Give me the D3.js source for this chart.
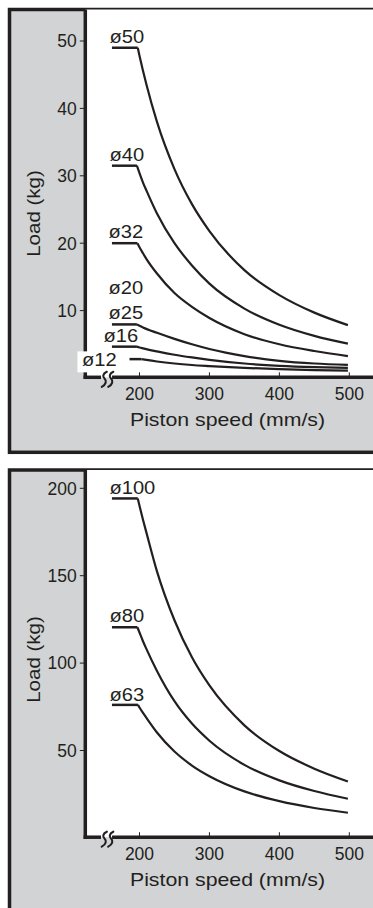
<!DOCTYPE html>
<html>
<head>
<meta charset="utf-8">
<script src="https://cdn.jsdelivr.net/npm/d3@7"></script>
<style>
  html, body { margin: 0; padding: 0; background: #ffffff; }
  svg { display: block; }
  text { font-family: "Liberation Sans", Arial, Helvetica, sans-serif; fill: #231f20; }
</style>
</head>
<body>
<svg id="chart" width="373" height="908"></svg>
<script>
// ---------------- DATA ----------------
const xTicks = [200, 300, 400, 500];
const topYTicks = [10, 20, 30, 40, 50];
const bottomYTicks = [50, 100, 150, 200];
const xTitle = "Piston speed (mm/s)";
const yTitle = "Load (kg)";

// Top panel series: [piston speed mm/s, load kg]; first point = start of flat segment
const s50 = [[160.6,49],[197.5,49],[200,47.8],[205,45.6],[210,43.5],[225,38.0],[250,31.0],[275,25.8],[300,21.8],[350,16.0],[400,12.3],[450,9.7],[498,7.85]];
const s40 = [[160.6,31.5],[196.3,31.5],[200,30.4],[205,29.0],[210,27.8],[225,24.4],[250,20.0],[275,16.7],[300,14.0],[350,10.3],[400,7.9],[450,6.25],[498,5.1]];
const s32 = [[160.6,20],[197,20],[200,19.4],[205,18.5],[210,17.65],[225,15.5],[250,12.6],[275,10.55],[300,8.9],[350,6.5],[400,5.0],[450,4.0],[498,3.25]];
const s25 = [[160.6,7.95],[196.3,7.95],[200,7.75],[205,7.5],[225,6.7],[250,5.8],[275,5.0],[300,4.3],[350,3.25],[400,2.55],[450,2.15],[498,1.95]];
const s16 = [[160.6,4.65],[196.3,4.65],[200,4.53],[205,4.4],[225,3.95],[250,3.45],[275,3.05],[300,2.7],[350,2.15],[400,1.8],[450,1.6],[498,1.5]];
const s12 = [[185.7,2.8],[203,2.8],[210,2.68],[225,2.45],[250,2.15],[275,1.93],[300,1.77],[350,1.5],[400,1.32],[450,1.18],[498,1.1]];
const topSeries = [s50, s40, s32, s25, s16, s12];
const topLabels = ["ø50","ø40","ø32","ø20","ø25","ø16","ø12"];
const topLabelSpeed = [157, 157, 155.7, 155.7, 155.7, 148.6, 117.7];
const topLabelLoad = [49.75, 32.2, 20.7, 12.5, 8.7, 5.4, 1.8];

// Bottom panel series
const s100 = [[160.6,194.2],[197.5,194.2],[200,190],[205,182],[210,174.5],[225,152.5],[250,124.5],[275,103.3],[300,87.2],[350,64.4],[400,49.7],[450,39.6],[498,32.3]];
const s80 = [[160.6,120.5],[197,120.5],[200,117.5],[205,112.5],[210,108],[225,95.5],[250,78.2],[275,65.4],[300,55.6],[350,41.8],[400,32.9],[450,26.8],[498,22.4]];
const s63 = [[160.6,76.1],[197.8,76.1],[200,74.6],[205,71.5],[210,68.6],[225,60.3],[250,49.4],[275,41.4],[300,35.3],[350,26.6],[400,21],[450,17.1],[498,14.4]];
const bottomSeries = [s100, s80, s63];
const bottomLabels = ["ø100","ø80","ø63"];
const bottomLabelSpeed = [157, 157, 157];
const bottomLabelLoad = [197, 123.3, 78.6];

// ---------------- DRAW ----------------
const INK = "#231f20";
const GREY = "#d1d3d4";
const svg = d3.select("#chart");

function stretch(sel, f) {
  sel.each(function () {
    const len = this.getComputedTextLength();
    d3.select(this).attr("textLength", len * f).attr("lengthAdjust", "spacingAndGlyphs");
  });
}

function panel(cfg) {
  const g = svg.append("g");
  const x = d3.scaleLinear().domain([122.5, 500]).range([85.3, 349.3]);
  const y = d3.scaleLinear().domain([0, cfg.yMax]).range([cfg.zeroY, cfg.maxY]);
  const axisY = cfg.zeroY - 0.7;
  const axisX = x(122.5);

  // outer grey frame
  g.append("rect")
    .attr("x", 9.5).attr("y", cfg.frameTop)
    .attr("width", 420).attr("height", cfg.frameBottom - cfg.frameTop)
    .attr("fill", GREY).attr("stroke", INK).attr("stroke-width", 3.5);
  // white plot area
  g.append("rect")
    .attr("x", axisX).attr("y", cfg.frameTop)
    .attr("width", 400).attr("height", axisY - cfg.frameTop)
    .attr("fill", "#ffffff");

  // y ticks
  cfg.yTicks.forEach(t => {
    g.append("line").attr("x1", axisX - 5.5).attr("x2", axisX)
      .attr("y1", y(t)).attr("y2", y(t)).attr("stroke", INK).attr("stroke-width", 1);
    g.append("text").attr("x", axisX - 8.5).attr("y", y(t) + 6.3)
      .attr("text-anchor", "end").attr("font-size", 17.5).text(t);
  });
  // x ticks
  xTicks.forEach(t => {
    g.append("line").attr("x1", x(t)).attr("x2", x(t))
      .attr("y1", axisY - 5).attr("y2", axisY).attr("stroke", INK).attr("stroke-width", 1);
    g.append("text").attr("x", x(t)).attr("y", axisY + 22.3)
      .attr("text-anchor", "middle").attr("font-size", 17.5).text(t);
  });

  // series
  const flat = d3.line().x(d => x(d[0])).y(d => y(d[1]));
  const curve = d3.line().x(d => x(d[0])).y(d => y(d[1])).curve(d3.curveMonotoneX);
  cfg.series.forEach(s => {
    g.append("path").attr("d", flat(s.slice(0, 2)))
      .attr("fill", "none").attr("stroke", INK).attr("stroke-width", 2.5);
    g.append("path").attr("d", curve(s.slice(1)))
      .attr("fill", "none").attr("stroke", INK).attr("stroke-width", 2.2)
      .attr("stroke-linejoin", "round");
  });

  // y axis line
  g.append("line").attr("x1", axisX).attr("x2", axisX)
    .attr("y1", cfg.frameTop).attr("y2", axisY + 1.7)
    .attr("stroke", INK).attr("stroke-width", 3.5);

  // labels
  cfg.labels.forEach((lab, i) => {
    const lx = x(cfg.labelSpeed[i]);
    const ly = y(cfg.labelLoad[i]);
    const t = g.append("text").attr("x", lx).attr("y", ly).attr("font-size", 17.5).text(lab);
    stretch(t, 1.15);
    if (cfg.boxed && cfg.boxed.includes(lab)) {
      const bb = t.node().getBBox();
      g.insert("rect", function () { return t.node(); })
        .attr("x", bb.x - 4.5).attr("y", bb.y + 1.5)
        .attr("width", bb.width + 7).attr("height", bb.height + 1)
        .attr("fill", "#ffffff");
    }
  });

  // x axis line with break
  const bx = x(145);
  g.append("line").attr("x1", axisX - 1.7).attr("x2", bx)
    .attr("y1", axisY).attr("y2", axisY).attr("stroke", INK).attr("stroke-width", 3.5);
  g.append("line").attr("x1", bx + 11).attr("x2", 380)
    .attr("y1", axisY).attr("y2", axisY).attr("stroke", INK).attr("stroke-width", 3.5);
  [0, 6.5].forEach(off => {
    const cx = bx + 3 + off;
    g.append("path")
      .attr("d", `M${cx + 2.8},${axisY - 5.5} C${cx - 1.5},${axisY - 3.5} ${cx - 1.5},${axisY - 0.5} ${cx + 0.6},${axisY + 1.5} S${cx + 2.3},${axisY + 7} ${cx - 2.3},${axisY + 9.5}`)
      .attr("fill", "none").attr("stroke", INK).attr("stroke-width", 2.1).attr("stroke-linecap", "round");
  });

  // titles
  const xt = g.append("text").attr("x", 227.5).attr("y", axisY + 49)
    .attr("text-anchor", "middle").attr("font-size", 18.5).text(xTitle);
  stretch(xt, 1.15);
  const yt = g.append("text")
    .attr("transform", `translate(40,${cfg.yTitleY}) rotate(-90)`)
    .attr("text-anchor", "middle").attr("font-size", 18.5).text(yTitle);
  stretch(yt, 1.11);
}

panel({
  frameTop: 9.5, frameBottom: 452.3,
  zeroY: 378, maxY: 41, yMax: 50,
  yTicks: topYTicks, series: topSeries,
  labels: topLabels, labelSpeed: topLabelSpeed, labelLoad: topLabelLoad,
  boxed: ["ø12"], yTitleY: 213.5
});
panel({
  frameTop: 470, frameBottom: 930,
  zeroY: 837.9, maxY: 488.3, yMax: 200,
  yTicks: bottomYTicks, series: bottomSeries,
  labels: bottomLabels, labelSpeed: bottomLabelSpeed, labelLoad: bottomLabelLoad,
  boxed: [], yTitleY: 659.5
});
</script>
</body>
</html>
